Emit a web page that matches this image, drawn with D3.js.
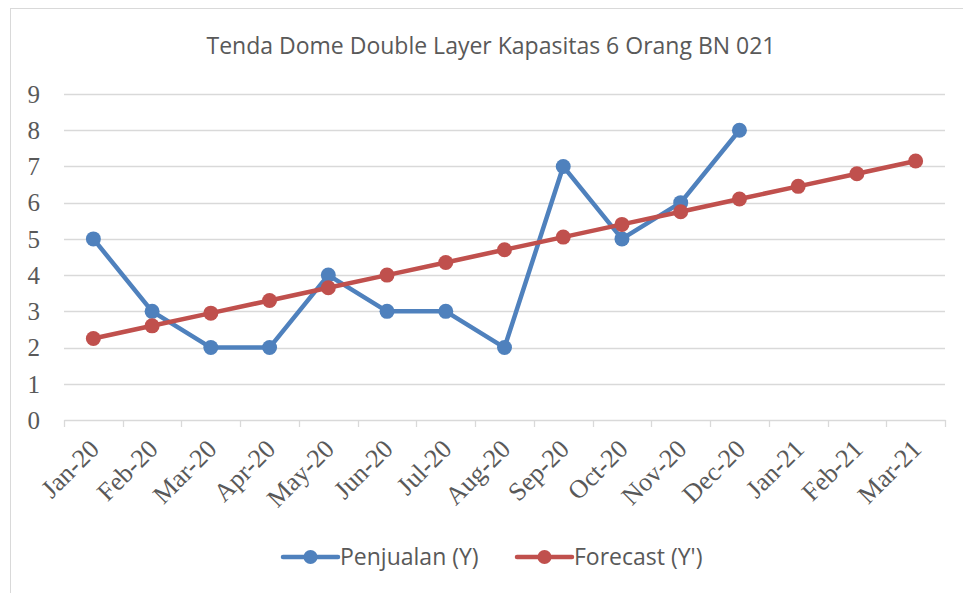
<!DOCTYPE html>
<html>
<head>
<meta charset="utf-8">
<script src="https://cdn.jsdelivr.net/npm/d3@7"></script>
<style>
  body { margin: 0; background: #fff; }
  svg { display: block; }
</style>
</head>
<body>
<div id="chart"></div>
<script>
// values
const months = ["Jan-20", "Feb-20", "Mar-20", "Apr-20", "May-20", "Jun-20", "Jul-20", "Aug-20",
                "Sep-20", "Oct-20", "Nov-20", "Dec-20", "Jan-21", "Feb-21", "Mar-21"];
const penjualan = [5, 3, 2, 2, 4, 3, 3, 2, 7, 5, 6, 8];
const forecast = [2.25, 2.6, 2.95, 3.3, 3.65, 4.0, 4.35, 4.7, 5.05, 5.4, 5.75, 6.1, 6.45, 6.8, 7.15];
const yTicks = [0, 1, 2, 3, 4, 5, 6, 7, 8, 9];

const W = 963, H = 593;
const margin = { top: 94, right: 18, bottom: 173, left: 64 };
const plotW = W - margin.left - margin.right;
const plotH = H - margin.top - margin.bottom;

const svg = d3.select("#chart").append("svg").attr("width", W).attr("height", H);

// chart frame
svg.append("rect").attr("x", 10.5).attr("y", 8.5).attr("width", 970).attr("height", 600)
   .attr("fill", "none").attr("stroke", "#d9d9d9").attr("stroke-width", 1);

svg.append("text").attr("x", 491).attr("y", 54).attr("text-anchor", "middle")
   .style("font-family", "'Open Sans', sans-serif").style("font-size", "23px")
   .attr("fill", "#595959").text("Tenda Dome Double Layer Kapasitas 6 Orang BN 021");

const g = svg.append("g").attr("transform", `translate(${margin.left},${margin.top})`);

const x = d3.scaleBand().domain(months).range([0, plotW]);
const y = d3.scaleLinear().domain([0, 9]).range([plotH, 0]);

// gridlines
g.selectAll(".grid").data(yTicks.filter(d => d > 0)).enter().append("line")
  .attr("class", "grid")
  .attr("x1", 0).attr("x2", plotW)
  .attr("y1", d => Math.round(y(d)) + 0.5).attr("y2", d => Math.round(y(d)) + 0.5)
  .attr("stroke", "#d9d9d9").attr("stroke-width", 1.3);

// y axis labels
g.selectAll(".ylab").data(yTicks).enter().append("text")
  .attr("class", "ylab")
  .attr("x", -24).attr("y", d => y(d)).attr("dy", "0.35em")
  .attr("text-anchor", "end")
  .style("font-family", "'Liberation Serif', 'Times New Roman', serif").style("font-size", "25px")
  .attr("fill", "#595959").text(d => d);

// x axis
let xAxis = d3.axisBottom(x).tickSize(0).tickFormat("");
let xg = g.append("g").attr("transform", `translate(0,${plotH})`).call(xAxis);
xg.select(".domain").attr("stroke", "#d9d9d9").attr("stroke-width", 1.5);
xg.selectAll(".tick").remove();

const bounds = months.map(m => x(m)).concat([plotW]);
g.selectAll(".xtick").data(bounds).enter().append("line")
  .attr("x1", d => Math.round(d) + 0.5).attr("x2", d => Math.round(d) + 0.5)
  .attr("y1", plotH).attr("y2", plotH + 7)
  .attr("stroke", "#d9d9d9").attr("stroke-width", 1.3);

g.selectAll(".xlab").data(months).enter().append("text")
  .attr("class", "xlab")
  .attr("transform", d => `translate(${x(d) + x.bandwidth() / 2 + 1},${plotH + 24}) rotate(-45)`)
  .attr("text-anchor", "end").attr("dy", "0.35em")
  .style("font-family", "'Liberation Serif', 'Times New Roman', serif").style("font-size", "26px")
  .attr("fill", "#595959").text(d => d);

const cx = (d, i) => x(months[i]) + x.bandwidth() / 2;
const line = d3.line().x(cx).y(d => y(d));

function drawSeries(values, color) {
  g.append("path").datum(values)
    .attr("d", line).attr("fill", "none")
    .attr("stroke", color).attr("stroke-width", 4.5).attr("stroke-linejoin", "round");
  g.selectAll(null).data(values).enter().append("circle")
    .attr("cx", cx).attr("cy", d => y(d)).attr("r", 7.5).attr("fill", color);
}

drawSeries(penjualan, "#4f81bd");
drawSeries(forecast, "#c0504d");

// legend
const legendItems = [
  { label: "Penjualan (Y)", color: "#4f81bd", x: 283 },
  { label: "Forecast (Y')", color: "#c0504d", x: 517 }
];
const lg = svg.selectAll(".legend").data(legendItems).enter().append("g")
  .attr("transform", d => `translate(${d.x},557)`);
lg.append("line").attr("x1", 0).attr("x2", 55).attr("y1", 0).attr("y2", 0)
  .attr("stroke", d => d.color).attr("stroke-width", 4.5).attr("stroke-linecap", "round");
lg.append("circle").attr("cx", 27.5).attr("cy", 0).attr("r", 7).attr("fill", d => d.color);
lg.append("text").attr("x", 57).attr("y", 0).attr("dy", "0.35em")
  .style("font-family", "'Open Sans', sans-serif").style("font-size", "23px")
  .attr("fill", "#595959").text(d => d.label);
</script>
</body>
</html>
